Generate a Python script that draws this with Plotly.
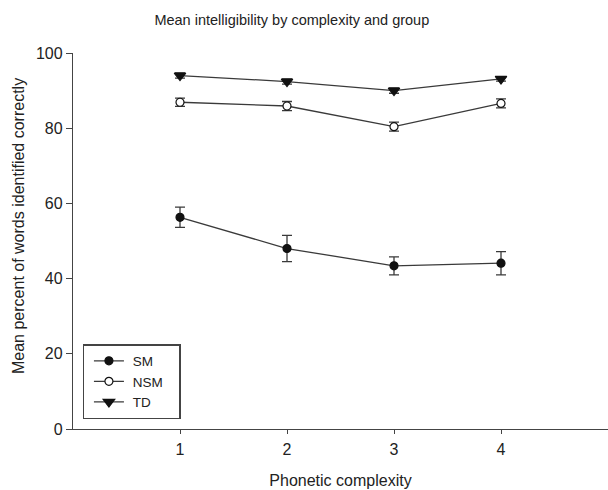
import plotly.graph_objects as go

complexity = [1, 2, 3, 4]
sm_mean = [56.3, 48.0, 43.4, 44.1]
sm_err = [2.7, 3.5, 2.4, 3.1]
nsm_mean = [86.9, 85.9, 80.4, 86.6]
nsm_err = [1.1, 1.2, 1.2, 1.2]
td_mean = [94.0, 92.4, 90.0, 93.1]
td_err = [0.7, 0.7, 0.7, 0.6]

FONT = "Liberation Sans, Arial, sans-serif"
LINE = "#3a3a3a"
PAD = "\u00a0"

fig = go.Figure()

def add(name, y, err, symbol, fill):
    fig.add_trace(go.Scatter(
        x=complexity, y=y, name=PAD + name + PAD * 3, mode="lines+markers",
        line=dict(color=LINE, width=1.3),
        marker=dict(symbol=symbol, size=8 if "circle" in symbol else 10,
                    color=fill, line=dict(color="#111111", width=1.2)),
        error_y=dict(type="data", array=err, visible=True, color=LINE,
                     thickness=1.3, width=5),
    ))

add("SM", sm_mean, sm_err, "circle", "#111111")
add("NSM", nsm_mean, nsm_err, "circle", "#ffffff")
add("TD", td_mean, td_err, "triangle-down", "#111111")

fig.update_layout(
    width=608, height=490,
    margin=dict(l=73, r=0, t=53, b=61),
    paper_bgcolor="white", plot_bgcolor="white",
    font=dict(family=FONT, size=16, color="#222222"),
    title=dict(text="Mean intelligibility by complexity and group",
               x=0.48, xanchor="center", y=1 - 20 / 490, yanchor="middle",
               font=dict(size=14.5, color="#222222")),
    showlegend=True,
    legend=dict(x=0.018, y=0.026, xanchor="left", yanchor="bottom",
                bgcolor="white", bordercolor="#444444", borderwidth=1.3,
                font=dict(size=13.5), tracegroupgap=0, itemwidth=30,
                indentation=5),
    xaxis=dict(range=[0, 5], tickvals=complexity, ticktext=[str(c) for c in complexity],
               showgrid=False, zeroline=False, showline=True, linecolor="#444444",
               linewidth=1.3, ticks="outside", ticklen=4, tickcolor="#444444",
               tickfont=dict(size=16), ticklabelstandoff=2,
               title=dict(text="Phonetic complexity", font=dict(size=16), standoff=17)),
    yaxis=dict(range=[0, 100], tickvals=[0, 20, 40, 60, 80, 100],
               showgrid=False, zeroline=False, showline=True, linecolor="#444444",
               linewidth=1.3, ticks="outside", ticklen=6, tickcolor="#444444",
               tickfont=dict(size=16)),
    annotations=[dict(text="Mean percent of words identified correctly",
                      xref="paper", yref="paper", x=(18 - 73) / 535, y=(429 - 226) / 376,
                      xanchor="center", yanchor="middle", textangle=-90,
                      showarrow=False, font=dict(size=16, color="#222222"))],
)

fig.write_html("out.html", config={"displayModeBar": False},
               post_script="document.body.style.margin='0px';document.body.style.overflow='hidden';")
